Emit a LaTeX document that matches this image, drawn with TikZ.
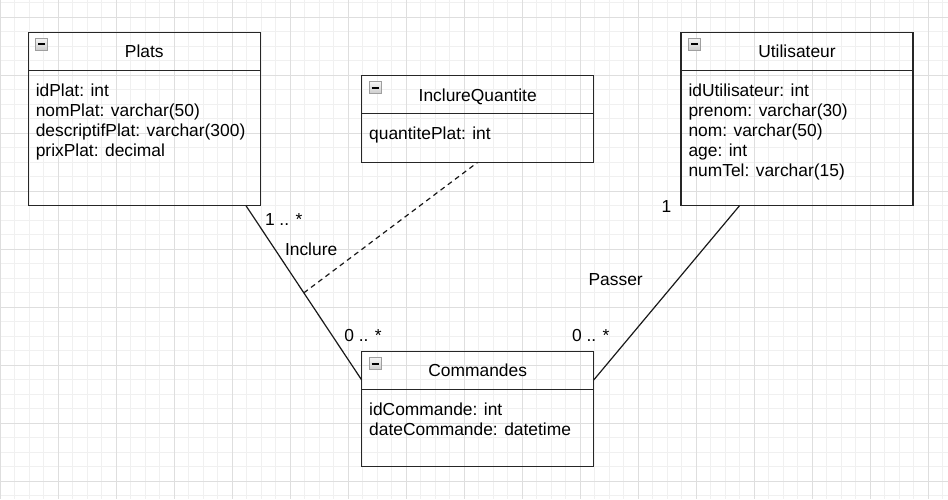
\documentclass[tikz,border=0pt]{standalone}
\usepackage{fontspec}
\setmainfont{Liberation Sans}
\usetikzlibrary{calc,positioning}

\begin{document}
\begin{tikzpicture}[x=0.5pt,y=-0.5pt,
	every node/.style={font=\fontsize{8.7}{10}\selectfont,inner sep=0pt,outer sep=0pt},
	umlbox/.style={draw=black!85,line width=0.7pt,rectangle,minimum width=116pt,anchor=north west},
	attrs/.style={align=left,anchor=north west},
	link/.style={line width=0.6pt,black!90},
	icon/.style={draw=gray!75,line width=0.4pt,top color=gray!8,bottom color=gray!40},
	gridminor/.style={line width=0.5pt,black!6},
	gridmajor/.style={line width=0.5pt,black!13}]

	% background and grid
	\fill[white] (0,0) rectangle (948,499);
	\useasboundingbox (0,0) rectangle (948,499);
	\foreach \x in {0,14.5,...,948} \draw[gridminor] (\x,0) -- (\x,499);
	\foreach \y in {2.5,17,...,499} \draw[gridminor] (0,\y) -- (948,\y);
	\foreach \x in {0,58,...,948} \draw[gridmajor] (\x,0) -- (\x,499);
	\foreach \y in {17,75,...,499} \draw[gridmajor] (0,\y) -- (948,\y);

	% Plats
	\node[umlbox,minimum height=86.7pt] (plats) at (28.3,32.3) {};
	\node[anchor=base] (platsT) at ($(plats.north)+(0,25.5)$) {Plats};
	\node[attrs] (platsA) at ($(plats.north west)+(7.5,50)$) {\strut idPlat: int\\nomPlat: varchar(50)\\descriptifPlat: varchar(300)\\prixPlat: decimal};

	% InclureQuantite
	\node[umlbox,minimum height=43.3pt] (quant) at (361.7,75.7) {};
	\node[anchor=base] (quantT) at ($(quant.north)+(0,25.5)$) {InclureQuantite};
	\node[attrs] (quantA) at ($(quant.north west)+(7.5,50)$) {\strut quantitePlat: int};

	% Utilisateur
	\node[umlbox,minimum height=86.7pt] (user) at (681,32.3) {};
	\node[anchor=base] (userT) at ($(user.north)+(0,25.5)$) {Utilisateur};
	\node[attrs] (userA) at ($(user.north west)+(7.5,50)$) {\strut idUtilisateur: int\\prenom: varchar(30)\\nom: varchar(50)\\age: int\\numTel: varchar(15)};

	% Commandes
	\node[umlbox,minimum height=57.5pt] (cmd) at (361.7,351.7) {};
	\node[anchor=base] (cmdT) at ($(cmd.north)+(0,24.5)$) {Commandes};
	\node[attrs] (cmdA) at ($(cmd.north west)+(7.5,50)$) {\strut idCommande: int\\dateCommande: datetime};

	% headers and collapse icons
	\foreach \b in {plats,quant,user,cmd}{
		\draw[black!85,line width=0.7pt] ($(\b.north west)+(0,38)$) -- ($(\b.north east)+(0,38)$);
		\draw[icon] ($(\b.north west)+(7.5,6)$) rectangle +(12,12);
		\draw[line width=0.9pt] ($(\b.north west)+(10,12)$) -- +(7,0);
	}

	% associations
	\draw[link] ([xshift=-7.15pt]plats.south east) -- coordinate[midway] (incl) ([yshift=-14.15pt]cmd.north west);
	\draw[link,dash pattern=on 2.5pt off 2pt] (incl) -- (quant.south);
	\draw[link] ([yshift=-14.15pt]cmd.north east) -- ([xshift=29.25pt]user.south west);

	% labels
	\node[anchor=base west] (multPlats) at (265,225.7) {1 .. *};
	\node[anchor=base west] (inclLbl) at (285,255) {Inclure};
	\node[anchor=base west] (multCmdL) at (344.3,341.7) {0 .. *};
	\node[anchor=base west] (multCmdR) at (572,341.7) {0 .. *};
	\node[anchor=base west] (multUser) at (661.5,212.7) {1};
	\node[anchor=base west] (passLbl) at (588.6,285) {Passer};

\end{tikzpicture}
\end{document}
